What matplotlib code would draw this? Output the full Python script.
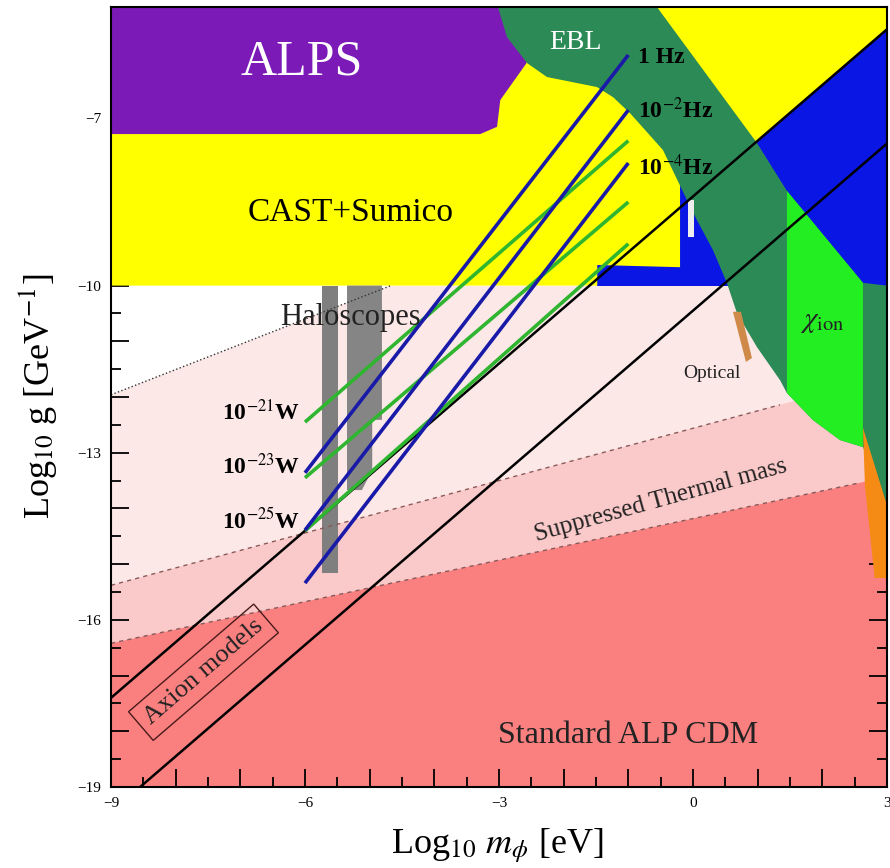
import matplotlib
matplotlib.use("Agg")
import matplotlib.pyplot as plt
from matplotlib.patches import Polygon
from matplotlib.ticker import MultipleLocator, FuncFormatter

plt.rcParams['font.family'] = ['Liberation Serif', 'DejaVu Serif']
plt.rcParams['mathtext.fontset'] = 'stix'

# ---------------- data (log10 m [eV], log10 g [GeV^-1]) ----------------
x_range = [-9, 3]
y_range = [-19, -5]

alps_x = [-9, -2.9, -2.57, -2.98, -3.03, -3.29, -9]
alps_y = [-5, -5, -6.0, -6.67, -7.15, -7.28, -7.28]

cast_x = [-9, 3, 3, 0.5, -0.2, -0.2, -1.48, -1.48, -9]
cast_y = [-5, -5, -5.4, -7.9, -8.1, -9.67, -9.63, -10, -10]

hb_x = [-1.485, 3, 3, -1.485]
hb_y = [-10, -10, -5, -5]

ebl_x = [-3.016, -0.557, 0.989, 1.453, 2.628, 3.0, 3.0, 2.628, 2.273, 1.855,
         1.453, 1.345, 0.989, 0.680, 0.525, 0.309, 0.061, -0.093, -0.464,
         -0.975, -1.238, -1.485, -2.258, -2.567, -2.877]
ebl_y = [-5, -5, -7.44, -8.3, -9.95, -10.0, -13.94, -12.898, -12.772,
         -12.413, -11.929, -11.695, -11.103, -10.493, -9.954, -9.362, -8.823,
         -8.464, -7.567, -6.903, -6.616, -6.436, -6.256, -6.005, -5.539]

chi_x = [1.453, 2.628, 2.628, 2.273, 1.855, 1.453]
chi_y = [-8.3, -9.95, -12.898, -12.772, -12.413, -11.929]

orange_x = [2.628, 3.0, 3.0, 2.81, 2.66]
orange_y = [-12.55, -13.94, -15.25, -15.25, -13.6]

optical_x = [0.618, 0.742, 0.912, 0.819]
optical_y = [-10.47, -10.47, -11.30, -11.37]

spike_x = [-0.078, 0.015, 0.015, -0.078]
spike_y = [-8.46, -8.46, -9.13, -9.13]

halo1_x = [-5.74, -5.49, -5.49, -5.74]
halo1_y = [-10, -10, -15.16, -15.16]
halo2_x = [-5.35, -4.81, -4.81, -4.96, -4.96, -5.12, -5.35]
halo2_y = [-10, -10, -12.41, -12.41, -13.31, -13.67, -13.67]

dotted_x = [-9, -4.67]
dotted_y = [-11.96, -10]
thermal_hi_x = [-9, 1.345, 3]
thermal_hi_y = [-15.38, -12.14, -11.62]
thermal_lo_x = [-9, 2.58, 3]
thermal_lo_y = [-16.42, -13.54, -13.41]

axion_hi_x = [-9, 3]
axion_hi_y = [-17.4, -5.4]
axion_lo_x = [-8.55, 3]
axion_lo_y = [-19.0, -7.45]

line_x = [-6, -1]
blue_start = [-13.36, -14.39, -15.34]
blue_end = [-5.86, -6.85, -7.80]
green_start = [-12.45, -13.45, -14.40]
green_end = [-7.40, -8.50, -9.25]
power_labels = [r'10$^{-21}$W', r'10$^{-23}$W', r'10$^{-25}$W']
power_label_y = [-12.27, -13.24, -14.21]
freq_labels = ['1 Hz', r'10$^{-2}$Hz', r'10$^{-4}$Hz']
freq_label_y = [-5.9, -6.85, -7.87]

# ---------------- figure ----------------
fig = plt.figure(figsize=(8.9, 8.68), dpi=100)
ax = fig.add_axes([0.1247, 0.0933, 0.8719, 0.8986])
ax.set_xlim(x_range)
ax.set_ylim(y_range)


def poly(xs, ys, color, z, **kw):
    ax.add_patch(Polygon(list(zip(xs, ys)), closed=True, facecolor=color,
                         edgecolor='none', zorder=z, **kw))


# pink backgrounds
poly([x_range[0], x_range[1], x_range[1], x_range[0]],
     [y_range[0], y_range[0], -10, -10], '#fde8e8', 1)
poly(dotted_x + [x_range[0]], dotted_y + [-10], 'white', 1.1)
poly(thermal_hi_x + thermal_lo_x[::-1], thermal_hi_y + thermal_lo_y[::-1],
     '#fac9c9', 1.2)
poly(thermal_lo_x + [x_range[1], x_range[0]],
     thermal_lo_y + [y_range[0], y_range[0]], '#fa8080', 1.3)

# upper constraints
poly(hb_x, hb_y, '#0a16e4', 2)
poly(cast_x, cast_y, '#ffff00', 2.1)
poly(alps_x, alps_y, '#7c1ab8', 2.2)
poly(ebl_x, ebl_y, '#2b8a55', 2.3)
poly(chi_x, chi_y, '#22ee22', 2.4)
poly(orange_x, orange_y, '#f58a14', 2.5)
poly(optical_x, optical_y, '#cf8a4a', 2.5)
poly(spike_x, spike_y, '#eeeeee', 2.5)

# haloscopes
poly(halo1_x, halo1_y, '#7f7f7f', 3)
poly(halo2_x, halo2_y, '#858585', 3)

# boundary lines
ax.plot(dotted_x, dotted_y, ls=':', color='#333333', lw=1.0, zorder=3.5)
ax.plot(thermal_hi_x[:2], thermal_hi_y[:2], ls=(0, (3, 3)), color='#8a5a5a',
        lw=1.0, zorder=3.5)
ax.plot(thermal_lo_x[:2], thermal_lo_y[:2], ls=(0, (3, 3)), color='#8a5a5a',
        lw=1.0, zorder=3.5)

# axion model band
ax.plot(axion_hi_x, axion_hi_y, color='black', lw=1.8, zorder=4)
ax.plot(axion_lo_x, axion_lo_y, color='black', lw=1.8, zorder=4)

# sensitivity lines
for s, e in zip(green_start, green_end):
    ax.plot(line_x, [s, e], color='#2fb52f', lw=2.6, zorder=5,
            solid_capstyle='butt')
for s, e in zip(blue_start, blue_end):
    ax.plot(line_x, [s, e], color='#1a1aa8', lw=2.6, zorder=5.1,
            solid_capstyle='butt')

# ---------------- texts ----------------
ax.text(-6.05, -6.0, 'ALPS', color='white', fontsize=36, ha='center',
        va='center', zorder=6)
ax.text(-1.82, -5.63, 'EBL', color='white', fontsize=20, ha='center',
        va='center', zorder=6)
ax.text(-5.3, -8.70, 'CAST+Sumico', color='black', fontsize=24,
        ha='center', va='center', zorder=6)
ax.text(-5.3, -10.58, 'Haloscopes', color='#222222', fontsize=22,
        ha='center', va='center', zorder=6)
ax.text(0.29, -11.57, 'Optical', color='#222222', fontsize=14,
        ha='center', va='center', zorder=6)
ax.text(2.0, -10.65, r'$\chi_{\rm ion}$', color='#222222', fontsize=21,
        ha='center', va='center', zorder=6)
ax.text(-0.5, -13.85, 'Suppressed Thermal mass', color='#222222',
        fontsize=18, ha='center', va='center', rotation=15.5, zorder=6)
ax.text(-1.0, -18.07, 'Standard ALP CDM', color='#222222', fontsize=23,
        ha='center', va='center', zorder=6)
ax.text(-7.57, -16.94, 'Axion models', color='#222222', fontsize=19,
        ha='center', va='center', rotation=40.7, zorder=6,
        bbox=dict(boxstyle='square,pad=0.3', fc='none', ec='#4a1a1a', lw=1))

for lab, yy in zip(power_labels, power_label_y):
    ax.text(-6.07, yy, lab, fontsize=17, fontweight='bold', ha='right',
            va='center', zorder=6)
for lab, yy in zip(freq_labels, freq_label_y):
    ax.text(-0.85, yy, lab, fontsize=17, fontweight='bold', ha='left',
            va='center', zorder=6)

# ---------------- axes styling ----------------
ax.xaxis.set_major_locator(MultipleLocator(1))
ax.xaxis.set_minor_locator(MultipleLocator(0.5))
ax.yaxis.set_major_locator(MultipleLocator(1))
ax.yaxis.set_minor_locator(MultipleLocator(0.5))
ax.xaxis.set_major_formatter(FuncFormatter(
    lambda v, p: ('%d' % round(v)).replace('-', '\u2212')
    if round(v) % 3 == 0 else ''))
ax.yaxis.set_major_formatter(FuncFormatter(
    lambda v, p: ('%d' % round(v)).replace('-', '\u2212')
    if (round(v) + 1) % 3 == 0 else ''))
ax.tick_params(which='both', direction='in', top=True, right=True,
               labelsize=11, width=1.3, pad=7)
ax.tick_params(which='major', length=13)
ax.tick_params(which='minor', length=7)
for sp in ax.spines.values():
    sp.set_linewidth(1.5)
    sp.set_zorder(10)

fig.text(38 / 890, 1 - 396 / 868, r'Log$_{10}$ g [GeV$^{-1}$]', fontsize=26,
         rotation=90, ha='center', va='center')
fig.text(497 / 890, 1 - 846 / 868, r'Log$_{10}$ $m_\phi$ [eV]', fontsize=26,
         ha='center', va='center')

fig.savefig('out.png', dpi=100)
